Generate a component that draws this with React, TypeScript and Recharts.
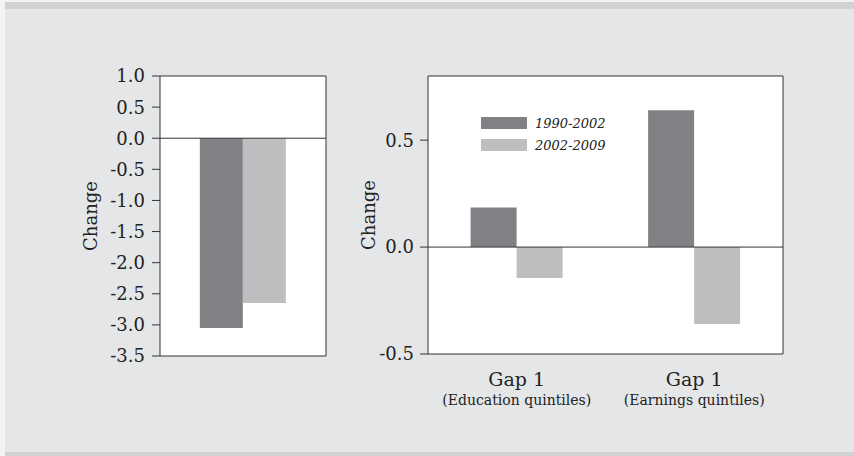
import React from "react";
import {
  BarChart,
  Bar,
  XAxis,
  YAxis,
  ReferenceLine,
  Legend,
  CartesianGrid,
} from "recharts";

// ---- data ----
const seriesNames = ["1990-2002", "2002-2009"];
const seriesColors = ["#808185", "#bdbec0"];

// Left panel (single group)
const leftCategories = ["All"];
const left1990 = [-3.05];
const left2002 = [-2.65];
const leftTicks = [1.0, 0.5, 0.0, -0.5, -1.0, -1.5, -2.0, -2.5, -3.0, -3.5];

// Right panel
const rightCategories = ["Gap 1", "Gap 1"];
const rightSubLabels = ["(Education quintiles)", "(Earnings quintiles)"];
const right1990 = [0.185, 0.64];
const right2002 = [-0.145, -0.36];
const rightTicks = [-0.5, 0.0, 0.5];

const leftData = leftCategories.map((c, i) => ({
  key: c,
  a: left1990[i],
  b: left2002[i],
}));
const rightData = rightCategories.map((c, i) => ({
  key: `${c} ${rightSubLabels[i]}`,
  a: right1990[i],
  b: right2002[i],
}));

const FONT = "'DejaVu Serif', serif";
const FRAME = "#333333";
const TEXT = "#222222";

const ChangeLabel = (props: any) => {
  const { viewBox, dx } = props;
  const x = viewBox.x + dx;
  const y = viewBox.y + viewBox.height / 2;
  return (
    <text
      x={x}
      y={y}
      transform={`rotate(-90, ${x}, ${y})`}
      textAnchor="middle"
      fontFamily={FONT}
      fontSize={18}
      fill={TEXT}
    >
      Change
    </text>
  );
};

const GapTick = (props: any) => {
  const { x, y, payload } = props;
  const i = payload.index;
  return (
    <g>
      <text
        x={x}
        y={y + 24}
        textAnchor="middle"
        fontFamily={FONT}
        fontSize={19}
        fill={TEXT}
      >
        {rightCategories[i]}
      </text>
      <text
        x={x}
        y={y + 43}
        textAnchor="middle"
        fontFamily={FONT}
        fontSize={14}
        fill={TEXT}
      >
        {rightSubLabels[i]}
      </text>
    </g>
  );
};

const LegendContent = (props: any) => {
  const { payload } = props;
  return (
    <div>
      {(payload || []).map((p: any, i: number) => (
        <div
          key={i}
          style={{
            display: "flex",
            alignItems: "center",
            height: 22,
          }}
        >
          <div
            style={{
              width: 46,
              height: 12,
              background: p.color,
            }}
          />
          <span
            style={{
              marginLeft: 8,
              fontFamily: FONT,
              fontStyle: "italic",
              fontSize: 13,
              color: TEXT,
              whiteSpace: "nowrap",
            }}
          >
            {p.value}
          </span>
        </div>
      ))}
    </div>
  );
};

const tickStyle = { fontFamily: FONT, fontSize: 18, fill: TEXT };

export default function App() {
  return (
    <div
      style={{
        position: "absolute",
        left: 0,
        top: 0,
        width: 854,
        height: 456,
        background: "#f3f3f3",
        overflow: "hidden",
      }}
    >
      <div
        style={{
          position: "absolute",
          left: 5,
          top: 2,
          width: 849,
          height: 454,
          background: "#e5e6e8",
        }}
      />
      <div
        style={{
          position: "absolute",
          left: 5,
          top: 2,
          width: 849,
          height: 7,
          background: "#d1d2d4",
        }}
      />
      <div
        style={{
          position: "absolute",
          left: 5,
          top: 452,
          width: 849,
          height: 4,
          background: "#d1d2d4",
        }}
      />

      {/* Left panel */}
      <div style={{ position: "absolute", left: 60, top: 60 }}>
        <BarChart
          width={267}
          height={320}
          data={leftData}
          margin={{ top: 15, right: 0, bottom: 23, left: 0 }}
          barGap={0}
          barCategoryGap="24%"
        >
          <CartesianGrid
            horizontal={false}
            vertical={false}
            fill="#ffffff"
            fillOpacity={1}
          />
          <XAxis
            dataKey="key"
            height={1}
            tick={false}
            tickLine={false}
            axisLine={{ stroke: FRAME }}
          />
          <XAxis
            xAxisId="top"
            orientation="top"
            dataKey="key"
            height={1}
            tick={false}
            tickLine={false}
            axisLine={{ stroke: FRAME }}
          />
          <YAxis
            width={100}
            domain={[-3.5, 1]}
            ticks={leftTicks}
            interval={0}
            tickFormatter={(v: number) => v.toFixed(1)}
            tick={tickStyle}
            tickSize={8}
            tickMargin={7}
            axisLine={{ stroke: FRAME }}
            tickLine={{ stroke: FRAME }}
            label={<ChangeLabel dx={37} />}
          />
          <YAxis
            yAxisId="r"
            orientation="right"
            width={1}
            domain={[-3.5, 1]}
            tick={false}
            tickLine={false}
            axisLine={{ stroke: FRAME }}
          />
          <ReferenceLine y={0} stroke={FRAME} />
          <Bar
            dataKey="a"
            name={seriesNames[0]}
            fill={seriesColors[0]}
            isAnimationActive={false}
          />
          <Bar
            dataKey="b"
            name={seriesNames[1]}
            fill={seriesColors[1]}
            isAnimationActive={false}
          />
        </BarChart>
      </div>

      {/* Right panel */}
      <div style={{ position: "absolute", left: 350, top: 60 }}>
        <BarChart
          width={434}
          height={356}
          data={rightData}
          margin={{ top: 15, right: 0, bottom: 0, left: 0 }}
          barGap={0}
          barCategoryGap="24%"
        >
          <CartesianGrid
            horizontal={false}
            vertical={false}
            fill="#ffffff"
            fillOpacity={1}
          />
          <XAxis
            dataKey="key"
            height={62}
            interval={0}
            tick={<GapTick />}
            tickLine={false}
            axisLine={{ stroke: FRAME }}
          />
          <XAxis
            xAxisId="top"
            orientation="top"
            dataKey="key"
            height={1}
            tick={false}
            tickLine={false}
            axisLine={{ stroke: FRAME }}
          />
          <YAxis
            width={78}
            domain={[-0.5, 0.8]}
            ticks={rightTicks}
            interval={0}
            tickFormatter={(v: number) => v.toFixed(1)}
            tick={tickStyle}
            tickSize={8}
            tickMargin={6}
            axisLine={{ stroke: FRAME }}
            tickLine={{ stroke: FRAME }}
            label={<ChangeLabel dx={25} />}
          />
          <YAxis
            yAxisId="r"
            orientation="right"
            width={1}
            domain={[-0.5, 0.8]}
            tick={false}
            tickLine={false}
            axisLine={{ stroke: FRAME }}
          />
          <ReferenceLine y={0} stroke={FRAME} />
          <Legend
            layout="vertical"
            align="center"
            verticalAlign="middle"
            content={<LegendContent />}
            wrapperStyle={{ left: 131, top: 52, width: "auto" }}
          />
          <Bar
            dataKey="a"
            name={seriesNames[0]}
            fill={seriesColors[0]}
            isAnimationActive={false}
          />
          <Bar
            dataKey="b"
            name={seriesNames[1]}
            fill={seriesColors[1]}
            isAnimationActive={false}
          />
        </BarChart>
      </div>
    </div>
  );
}
